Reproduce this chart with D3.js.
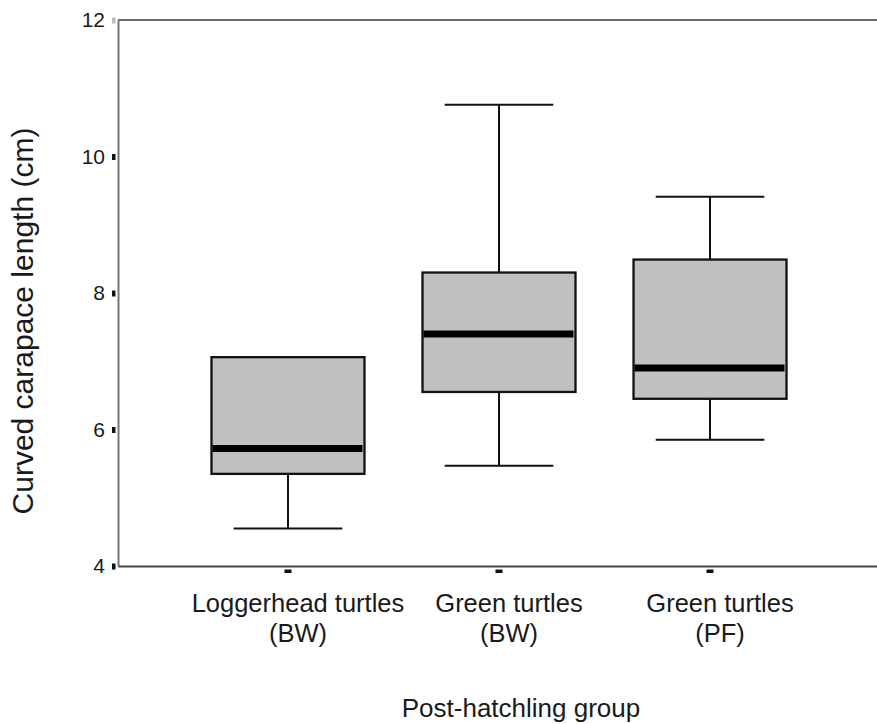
<html>
<head>
<script src="https://d3js.org/d3.v7.min.js"></script>
<style>
  body { margin: 0; background: white; }
  svg text { font-family: "Liberation Sans", Arial, sans-serif; fill: #1a1a1a; }
</style>
</head>
<body>
<svg width="877" height="724"></svg>
<script>
  // data
  var groups = ["Loggerhead turtles (BW)", "Green turtles (BW)", "Green turtles (PF)"];
  var labelLine1 = ["Loggerhead turtles", "Green turtles", "Green turtles"];
  var labelLine2 = ["(BW)", "(BW)", "(PF)"];
  var mins    = [4.55, 5.47, 5.85];
  var q1s     = [5.35, 6.55, 6.45];
  var medians = [5.72, 7.40, 6.90];
  var q3s     = [7.06, 8.30, 8.49];
  var maxs    = [7.06, 10.76, 9.41];
  var yTicks  = [4, 6, 8, 10, 12];

  var svg = d3.select("svg");
  var plotLeft = 118, plotRight = 880, plotTop = 20, plotBottom = 566;

  var x = d3.scaleBand().domain(groups).range([plotLeft, plotRight])
    .paddingInner(0.275).paddingOuter(0.443);
  var y = d3.scaleLinear().domain([4, 12]).range([plotBottom, plotTop]);

  var data = groups.map(function(g, i) {
    return {g: g, min: mins[i], q1: q1s[i], med: medians[i], q3: q3s[i], max: maxs[i]};
  });

  // frame: top line
  svg.append("line")
    .attr("x1", plotLeft).attr("x2", 877).attr("y1", plotTop).attr("y2", plotTop)
    .attr("stroke", "#6e6e6e").attr("stroke-width", 2);

  // y axis
  var ya = svg.append("g").attr("transform", "translate(" + plotLeft + ",0)")
    .call(d3.axisLeft(y).tickValues(yTicks).tickSize(0).tickPadding(13));
  ya.attr("font-size", 21).attr("font-family", "Liberation Sans, Arial, sans-serif");
  ya.select(".domain").attr("stroke", "#777").attr("stroke-width", 2);
  ya.selectAll(".tick text").attr("fill", "#2a2a2a");
  ya.selectAll(".tick").append("rect")
    .attr("x", -6).attr("y", -3).attr("width", 3.5).attr("height", 6)
    .attr("fill", function(d) { return d == 12 ? "#bbb" : "#111"; });

  // x axis
  var xa = svg.append("g").attr("transform", "translate(0," + plotBottom + ")")
    .call(d3.axisBottom(x).tickSize(0).tickFormat(""));
  xa.select(".domain").attr("stroke", "#444").attr("stroke-width", 2);
  xa.selectAll(".tick").append("rect")
    .attr("x", -3.5).attr("y", 3.5).attr("width", 7).attr("height", 3.5)
    .attr("fill", "#111");

  // category labels
  var lab = svg.append("g").selectAll("text").data(groups).enter()
    .append("text")
    .attr("text-anchor", "middle")
    .attr("font-size", 25.5)
    .attr("x", function(d) { return x(d) + x.bandwidth() / 2 + 10; })
    .attr("y", 612);
  lab.append("tspan").text(function(d, i) { return labelLine1[i]; });
  lab.append("tspan")
    .attr("x", function(d) { return x(d) + x.bandwidth() / 2 + 10; })
    .attr("dy", 30)
    .text(function(d, i) { return labelLine2[i]; });

  // boxes
  var bw = x.bandwidth();
  var capW = bw * 0.71;
  var box = svg.append("g").selectAll("g").data(data).enter().append("g")
    .attr("transform", function(d) { return "translate(" + (x(d.g) + bw / 2) + ",0)"; });

  // whiskers
  box.append("line")
    .attr("x1", 0).attr("x2", 0)
    .attr("y1", function(d) { return y(d.q3); })
    .attr("y2", function(d) { return y(d.max); })
    .attr("stroke", "#111").attr("stroke-width", 2);
  box.append("line")
    .attr("x1", 0).attr("x2", 0)
    .attr("y1", function(d) { return y(d.q1); })
    .attr("y2", function(d) { return y(d.min); })
    .attr("stroke", "#111").attr("stroke-width", 2);
  box.filter(function(d) { return d.max > d.q3; }).append("line")
    .attr("x1", -capW / 2).attr("x2", capW / 2)
    .attr("y1", function(d) { return y(d.max); })
    .attr("y2", function(d) { return y(d.max); })
    .attr("stroke", "#111").attr("stroke-width", 2);
  box.append("line")
    .attr("x1", -capW / 2).attr("x2", capW / 2)
    .attr("y1", function(d) { return y(d.min); })
    .attr("y2", function(d) { return y(d.min); })
    .attr("stroke", "#111").attr("stroke-width", 2);

  box.append("rect")
    .attr("x", -bw / 2).attr("width", bw)
    .attr("y", function(d) { return y(d.q3); })
    .attr("height", function(d) { return y(d.q1) - y(d.q3); })
    .attr("fill", "#c0c0c0").attr("stroke", "#111").attr("stroke-width", 2.3);

  box.append("line")
    .attr("x1", -bw / 2 + 1).attr("x2", bw / 2 - 2)
    .attr("y1", function(d) { return y(d.med); })
    .attr("y2", function(d) { return y(d.med); })
    .attr("stroke", "#000").attr("stroke-width", 7);

  // axis titles
  svg.append("text")
    .attr("transform", "translate(33,321) rotate(-90)")
    .attr("text-anchor", "middle")
    .attr("font-size", 30)
    .text("Curved carapace length (cm)");

  svg.append("text")
    .attr("x", 521).attr("y", 717)
    .attr("text-anchor", "middle")
    .attr("font-size", 26)
    .text("Post-hatchling group");
</script>
</body>
</html>
